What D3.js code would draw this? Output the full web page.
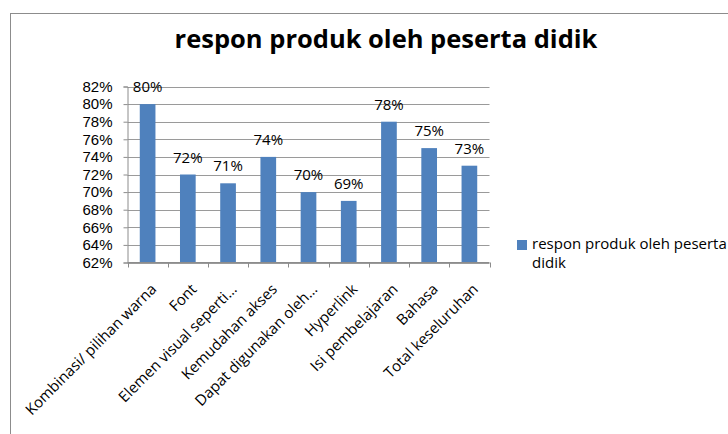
<!DOCTYPE html>
<html>
<head>
<meta charset="utf-8">
<script src="https://cdn.jsdelivr.net/npm/d3@7"></script>
<style>
  html, body { margin: 0; padding: 0; background: #fff; }
  svg { display: block; }
  text { font-family: "Open Sans", "DejaVu Sans", sans-serif; fill: #000; }
</style>
</head>
<body>
<svg id="chart" width="728" height="434"></svg>
<script>
// Survey results: student response to the learning product
const categories = [
  "Kombinasi/ pilihan warna",
  "Font",
  "Elemen visual seperti…",
  "Kemudahan akses",
  "Dapat digunakan oleh…",
  "Hyperlink",
  "Isi pembelajaran",
  "Bahasa",
  "Total keseluruhan"
];
const values = [80, 72, 71, 74, 70, 69, 78, 75, 73];
const yTicks = [62, 64, 66, 68, 70, 72, 74, 76, 78, 80, 82];
const chartTitle = "respon produk oleh peserta didik";
const seriesName = ["respon produk oleh peserta", "didik"];

const svg = d3.select("#chart");
const W = 728, H = 434;

// chart frame (extends past right and bottom edges)
svg.append("rect")
  .attr("x", 10.5).attr("y", 13.5)
  .attr("width", W + 20).attr("height", H + 20)
  .attr("fill", "#fff")
  .attr("stroke", "#8c8c8c").attr("stroke-width", 1);

const plot = { left: 127.5, right: 489.5, top: 86.5, bottom: 262.5 };

const x = d3.scaleBand()
  .domain(categories)
  .range([plot.left, plot.right])
  .paddingInner(0.61)
  .paddingOuter(0.305);

const y = d3.scaleLinear()
  .domain([62, 82])
  .range([plot.bottom, plot.top]);

// horizontal gridlines
svg.append("g")
  .selectAll("line")
  .data(yTicks)
  .join("line")
  .attr("x1", plot.left).attr("x2", plot.right)
  .attr("y1", d => Math.round(y(d)) + 0.5).attr("y2", d => Math.round(y(d)) + 0.5)
  .attr("stroke", "#9a9a9a").attr("stroke-width", 1);

// bars
svg.append("g")
  .selectAll("rect")
  .data(values)
  .join("rect")
  .attr("x", (d, i) => x(categories[i]))
  .attr("y", d => y(d))
  .attr("width", x.bandwidth())
  .attr("height", d => plot.bottom - y(d))
  .attr("fill", "#4f81bd");

// y axis
const yAxis = d3.axisLeft(y)
  .tickValues(yTicks)
  .tickSize(4)
  .tickPadding(11)
  .tickFormat(d => d + "%");
const gy = svg.append("g")
  .attr("transform", `translate(${plot.left},0)`)
  .call(yAxis);
gy.select(".domain").attr("stroke", "#8c8c8c");
gy.selectAll(".tick line").attr("stroke", "#8c8c8c");
gy.selectAll(".tick text")
  .style("font-family", "'Liberation Sans', Arial, sans-serif")
  .style("font-size", "15px")
  .style("fill", "#000");

// x axis: tick marks at category boundaries
const step = x.step();
const boundaries = d3.range(categories.length + 1).map(i => plot.left + i * step);
const gx = svg.append("g");
gx.append("line")
  .attr("x1", plot.left).attr("x2", plot.right)
  .attr("y1", plot.bottom).attr("y2", plot.bottom)
  .attr("stroke", "#8c8c8c");
gx.selectAll("line.tk")
  .data(boundaries)
  .join("line")
  .attr("class", "tk")
  .attr("x1", d => Math.round(d) + 0.5).attr("x2", d => Math.round(d) + 0.5)
  .attr("y1", plot.bottom).attr("y2", plot.bottom + 5)
  .attr("stroke", "#8c8c8c");

// rotated category labels
gx.selectAll("text")
  .data(categories)
  .join("text")
  .attr("text-anchor", "end")
  .attr("font-size", 15)
  .attr("transform", d => `translate(${x(d) + x.bandwidth() / 2 + 6},${plot.bottom + 24}) rotate(-45)`)
  .attr("dy", "0.35em")
  .text(d => d);

// value labels above bars
svg.append("g")
  .selectAll("text")
  .data(values)
  .join("text")
  .attr("x", (d, i) => x(categories[i]) + x.bandwidth() / 2)
  .attr("y", d => y(d) - 12)
  .attr("text-anchor", "middle")
  .attr("font-size", 15)
  .text(d => d + "%");

// title
svg.append("text")
  .attr("x", 386).attr("y", 48)
  .attr("text-anchor", "middle")
  .attr("font-size", 25.5)
  .attr("font-weight", "bold")
  .text(chartTitle);

// legend
const lg = svg.append("g");
lg.append("rect")
  .attr("x", 517).attr("y", 240)
  .attr("width", 10).attr("height", 10)
  .attr("fill", "#4f81bd");
lg.selectAll("text")
  .data(seriesName)
  .join("text")
  .attr("x", 532)
  .attr("y", (d, i) => 249 + i * 19)
  .attr("font-size", 15)
  .text(d => d);
</script>
</body>
</html>
